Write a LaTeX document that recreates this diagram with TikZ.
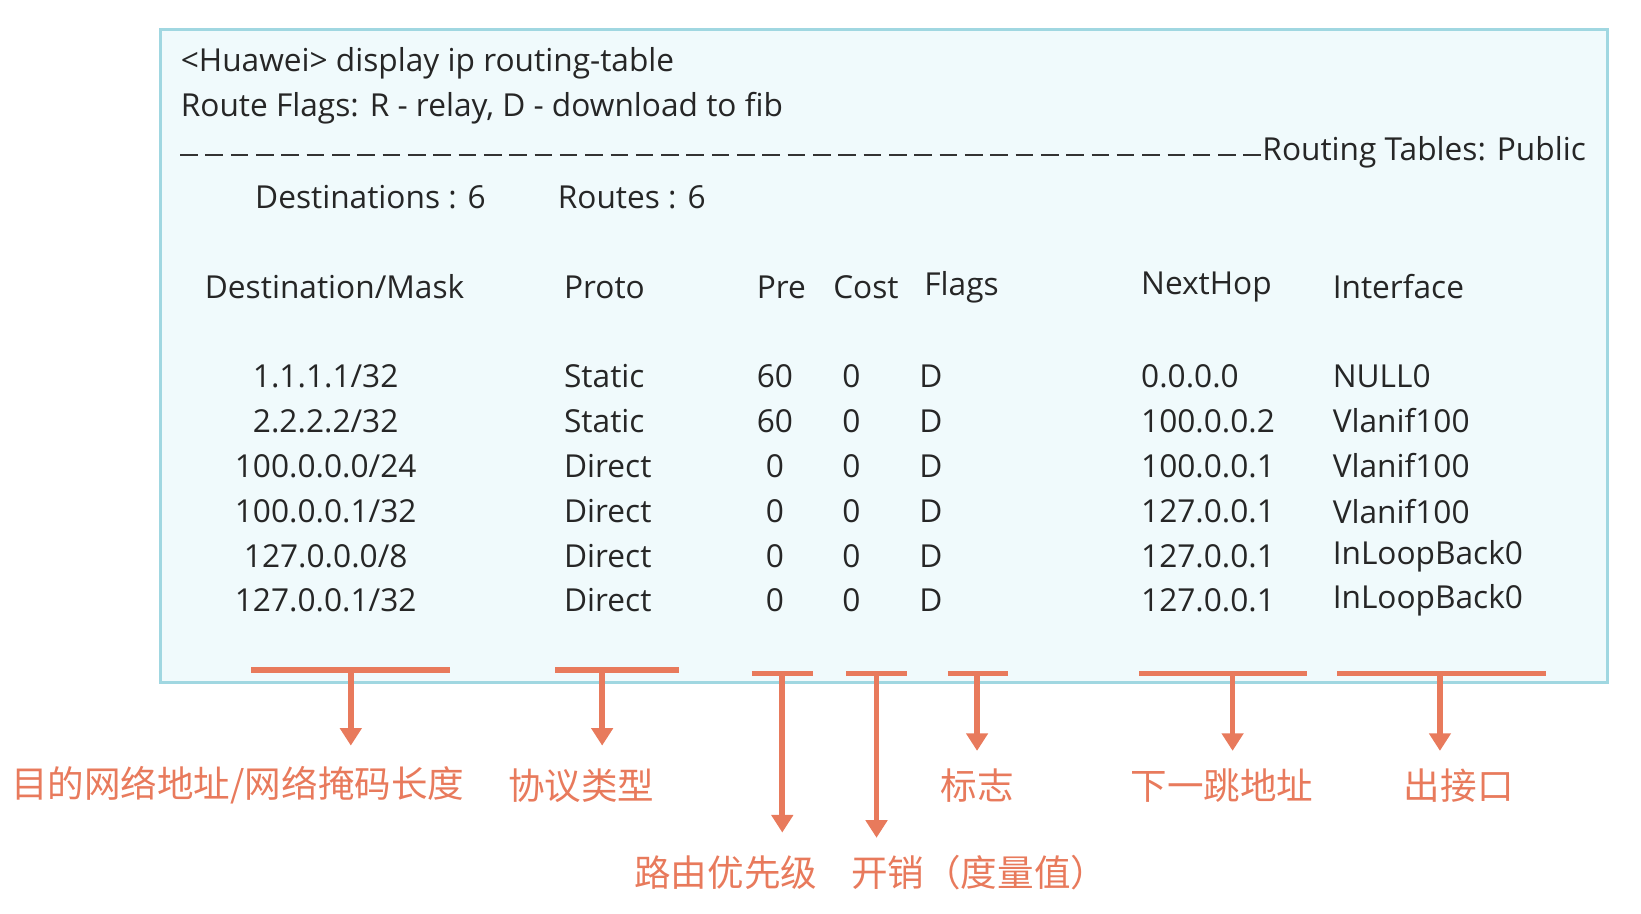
\documentclass[tikz,border=0pt]{standalone}
\usepackage{fontspec}
\setmainfont{Open Sans}
\newfontfamily\cjk{Noto Sans CJK SC}
\usetikzlibrary{positioning,arrows.meta}
\definecolor{boxfill}{RGB}{240,250,252}
\definecolor{boxline}{RGB}{160,215,225}
\definecolor{note}{RGB}{232,122,92}

\begin{document}
\begin{tikzpicture}[x=0.01047cm,y=-0.01047cm,
    txt/.style={font=\fontsize{9}{10}\selectfont,text=black!85,inner sep=0pt,anchor=west},
    ctxt/.style={txt,anchor=center},
    lbl/.style={font=\cjk\fontsize{10.4}{12}\selectfont,text=note,inner sep=0pt},
    brk/.style={note,line width=1.6pt},
    arr/.style={note,line width=1.6pt,-{Triangle[length=5pt,width=6pt]}}]
    \useasboundingbox (0,0) rectangle (1567,872);
    \filldraw[fill=boxfill,draw=boxline,line width=0.8pt] (153,28) rectangle (1535,652);

    \node[txt] (cmd) at (172,60) {<Huawei> display ip routing-table};
    \node[txt] (flg) at (172,103) {Route Flags: R - relay, D - download to fib};
    \node[txt,anchor=east] (tbl) at (1515,145) {Routing Tables: Public};
    \coordinate (dl) at (172,148);
    \draw[black!80,line width=0.6pt,dash pattern=on 5pt off 2.2pt] (dl) -- (dl -| tbl.west);
    \node[txt] (dst) at (243,188) {Destinations : 6};
    \node[txt] (rts) at (532,188) {Routes : 6};

    % header
    \node[txt] (h1) at (195,274) {Destination/Mask};
    \node[txt] (h2) at (538,274) {Proto};
    \node[txt] (h3) at (722,274) {Pre};
    \node[txt] (h4) at (795,274) {Cost};
    \node[txt] (h5) at (882,274) {Flags};
    \node[txt] (h6) at (1089,274) {NextHop};
    \node[txt] (h7) at (1272,274) {Interface};

    % rows
    \foreach \y/\d/\p/\r/\h/\i [count=\n] in
      {359/1.1.1.1\slash32/Static/60/0.0.0.0/NULL0,
       402/2.2.2.2\slash32/Static/60/100.0.0.2/Vlanif100,
       445/100.0.0.0\slash24/Direct/0/100.0.0.1/Vlanif100,
       488/100.0.0.1\slash32/Direct/0/127.0.0.1/Vlanif100,
       531/127.0.0.0\slash8/Direct/0/127.0.0.1/InLoopBack0,
       573/127.0.0.1\slash32/Direct/0/127.0.0.1/InLoopBack0}
    {
      \node[ctxt] (d\n) at (311,\y) {\d};
      \node[txt] (p\n) at (538,\y) {\p};
      \node[ctxt] (r\n) at (740,\y) {\r};
      \node[ctxt] (c\n) at (813,\y) {0};
      \node[ctxt] (f\n) at (889,\y) {D};
      \node[txt] (n\n) at (1089,\y) {\h};
      \node[txt] (i\n) at (1272,\y) {\i};
    }

    % brackets and arrows
    \foreach \a/\b/\m/\t/\e [count=\k] in
      {240/430/335/640/712, 530/648/575/640/712, 718/776/747/643/795,
       808/866/837/643/800, 905/963/933/643/717, 1088/1248/1177/643/717,
       1277/1476/1375/643/717}
    {
      \coordinate (s\k) at (\a,\t);
      \coordinate (e\k) at (\b,\t);
      \coordinate (m\k) at (\m,\t);
      \coordinate (t\k) at (\m,\e);
      \draw[brk] (s\k) -- (e\k);
      \draw[arr] (m\k) -- (t\k);
    }

    \node[lbl] (l1) at (227,750) {目的网络地址/网络掩码长度};
    \node[lbl] (l2) at (555,750) {协议类型};
    \node[lbl] (l5) at (933,750) {标志};
    \node[lbl] (l6) at (1167,750) {下一跳地址};
    \node[lbl] (l7) at (1393,750) {出接口};
    \node[lbl] (l3) at (693,833) {路由优先级};
    \node[lbl] (l4) at (935,833) {开销（度量值）};
\end{tikzpicture}
\end{document}
